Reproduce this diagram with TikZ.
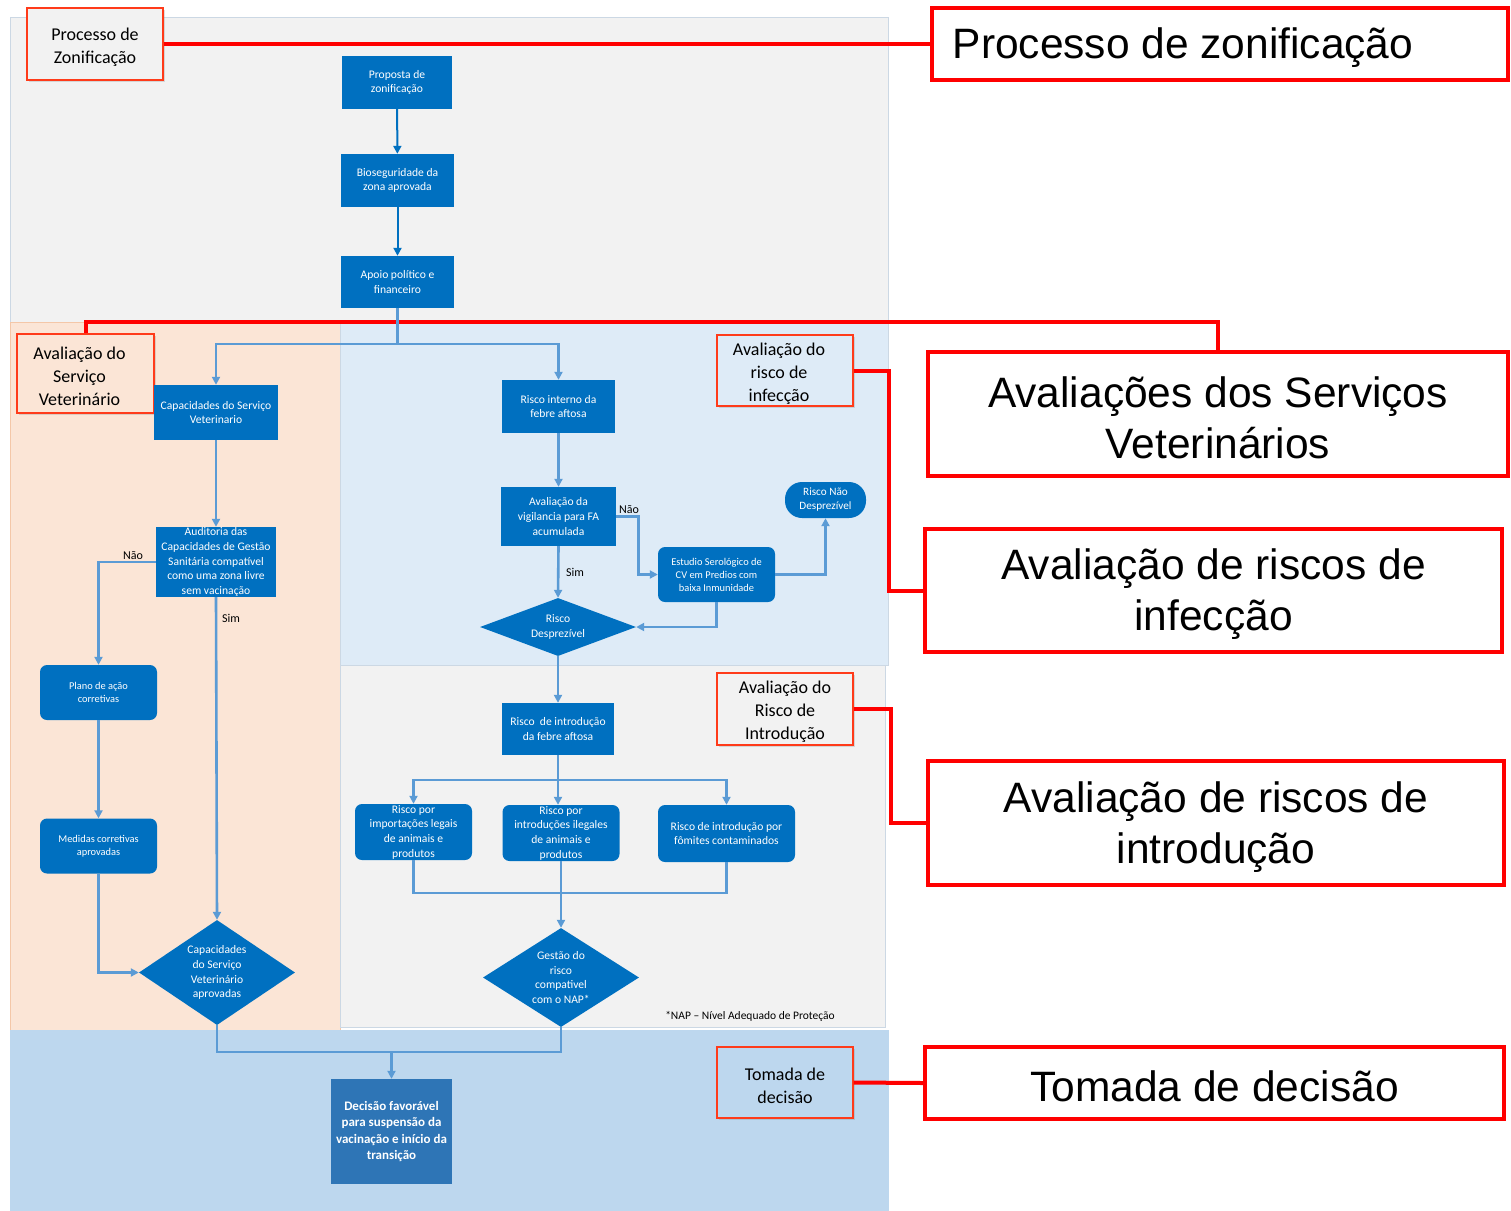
\documentclass[tikz,border=0pt]{standalone}
\usepackage{fontspec}
\setmainfont{Carlito}
\newfontfamily\arialf{Liberation Sans}
\usetikzlibrary{shapes.geometric,arrows.meta,shadows}
\definecolor{nblue}{HTML}{0070C0}
\definecolor{lblue}{HTML}{5B9BD5}
\definecolor{dblue}{HTML}{2E75B6}
\definecolor{greybg}{HTML}{F2F2F2}
\definecolor{peach}{HTML}{FBE5D6}
\definecolor{paleblue}{HTML}{DEEBF7}
\definecolor{midblue}{HTML}{BDD7EE}
\definecolor{redl}{HTML}{FF0000}
\definecolor{orred}{HTML}{FF3B1A}
\definecolor{gborder}{HTML}{CCD8E4}
\definecolor{pborder}{HTML}{F4C7A8}
\begin{document}
\begin{tikzpicture}[x=1pt,y=-1pt,
  box/.style={rectangle, fill=nblue, text=white, inner sep=0.5pt, align=center, font=\fontsize{11.6}{14.7}\selectfont},
  rbox/.style={box, rounded corners=7pt},
  small/.style={font=\fontsize{10.4}{13}\selectfont},
  dia/.style={diamond, fill=nblue, text=white, inner sep=0pt, align=center, font=\fontsize{11.6}{14.8}\selectfont},
  conn/.style={draw=lblue, line width=2.6pt, -{Triangle[length=8pt,width=8pt]}},
  cline/.style={draw=lblue, line width=2.6pt},
  tconn/.style={draw=nblue, line width=2pt, -{Triangle[length=8pt,width=8pt]}},
  tag/.style={draw=orred, line width=1.3pt, drop shadow={opacity=0.25, shadow xshift=2pt, shadow yshift=-2pt}},
  tagtext/.style={align=center, font=\fontsize{18}{23}\selectfont, yshift=-3pt},
  big/.style={draw=redl, line width=4pt, fill=white},
  bigtext/.style={align=center, font=\arialf\fontsize{42.5}{51}\selectfont, yshift=-4pt},
  redline/.style={draw=redl, line width=4pt},
  lab/.style={font=\fontsize{12}{14}\selectfont, text=black}
]
\useasboundingbox (0,0) rectangle (1511,1210);
\fill[white] (0,0) rectangle (1511,1210);
% regions
\filldraw[fill=greybg, draw=gborder, line width=1pt] (10,17) rectangle (888,322);
\filldraw[fill=peach, draw=pborder, line width=1pt] (10,322) rectangle (340,1030);
\filldraw[fill=paleblue, draw=gborder, line width=1pt] (340,322) rectangle (888,665);
\filldraw[fill=greybg, draw=gborder, line width=1pt] (340,665) rectangle (885,1027);
\filldraw[fill=midblue, draw=midblue, line width=1pt] (10,1030) rectangle (888,1210);

% tags
\node[tag, fill=greybg, minimum width=136, minimum height=72, label={[tagtext]center:{Processo de\\Zonificação}}] (tag1) at (95,44) {};
\node[tag, fill=peach, minimum width=137, minimum height=79, label={[tagtext, xshift=-6pt]center:{Avaliação do\\Serviço\\Veterinário}}] (tag2) at (85.5,373.5) {};
\node[tag, fill=paleblue, minimum width=136, minimum height=71, label={[tagtext, xshift=-6pt]center:{Avaliação do\\risco de\\infecção}}] (tag3) at (785,370.5) {};
\node[tag, fill=greybg, minimum width=136, minimum height=72, label={[tagtext]center:{Avaliação do\\Risco de\\Introdução}}] (tag4) at (785,709) {};
\node[tag, fill=midblue, minimum width=136, minimum height=71, label={[tagtext]center:{Tomada de\\decisão}}] (tag5) at (785,1082.5) {};

% big labels
\node[big, minimum width=576, minimum height=72, label={[bigtext, xshift=-37pt]center:{Processo de zonificação}}] (big1) at (1220,44) {};
\node[big, minimum width=580, minimum height=124, label={[bigtext]center:{Avaliações dos Serviços\\Veterinários}}] (big2) at (1218,414) {};
\node[big, minimum width=577, minimum height=123, label={[bigtext]center:{Avaliação de riscos de\\infecção}}] (big3) at (1213.5,590.5) {};
\node[big, minimum width=576, minimum height=124, label={[bigtext]center:{Avaliação de riscos de\\introdução}}] (big4) at (1216,823) {};
\node[big, minimum width=579, minimum height=72, label={[bigtext, yshift=1pt]center:{Tomada de decisão}}] (big5) at (1214.5,1083) {};

% red connectors
\coordinate (rc2) at (1218,322);
\draw[redline] (tag1.east) -- (big1.west);
\draw[redline] (tag2.north) |- (rc2) -- (big2.north);
\draw[redline] (tag3.east) -- ++(35,0) |- (big3.west);
\draw[redline] (tag4.east) -- ++(37,0) |- (big4.west);
\draw[redline] (tag5.east) -- (big5.west);

% flow nodes
\node[box, minimum width=110, minimum height=53] (p1) at (397,82.5) {Proposta de\\zonificação};
\node[box, minimum width=113, minimum height=53] (p2) at (397.5,180.5) {Bioseguridade da\\zona aprovada};
\node[box, minimum width=113, minimum height=52] (p3) at (397.5,282) {Apoio político e\\financeiro};
\node[box, minimum width=124, minimum height=55] (cap) at (216,412.5) {Capacidades do Serviço\\Veterinario};
\node[box, minimum width=120, minimum height=70] (aud) at (216,562) {Auditoria das\\Capacidades de Gestão\\Sanitária compatível\\como uma zona livre\\sem vacinação};
\node[rbox, small, minimum width=117, minimum height=55] (plano) at (98.5,692.5) {Plano de ação\\corretivas};
\node[rbox, small, minimum width=117, minimum height=55] (med) at (98.5,846) {Medidas corretivas\\aprovadas};
\node[dia, shape aspect=1.5, minimum width=156, minimum height=105] (capd) at (217,972.5) {Capacidades\\do Serviço\\Veterinário\\aprovadas};

\node[box, minimum width=113, minimum height=53] (ri) at (558.5,406.5) {Risco interno da\\febre aftosa};
\node[box, minimum width=115, minimum height=59] (av) at (558.5,516.5) {Avaliação da\\vigilancia para FA\\acumulada};
\node[rbox, small, minimum width=117, minimum height=55] (est) at (716.5,574.5) {Estudio Serológico de\\CV em Predios com\\baixa Inmunidade};
\node[rbox, rounded corners=17pt, minimum width=81, minimum height=36, font=\fontsize{11.2}{14}\selectfont] (rnd) at (825.5,500) {Risco Não\\Desprezível};
\node[dia, shape aspect=2.7, minimum width=156, minimum height=58] (rd) at (558,627) {Risco\\Desprezível};

\node[box, minimum width=112, minimum height=52] (rin) at (558,729) {Risco\ \ de introdução\\da febre aftosa};
\node[rbox, minimum width=117, minimum height=56] (imp) at (413.5,832) {Risco por\\importações legais\\de animais e\\produtos};
\node[rbox, minimum width=117, minimum height=56] (ileg) at (561,833) {Risco por\\introduções ilegales\\de animais e\\produtos};
\node[rbox, minimum width=137, minimum height=57] (fom) at (726.5,833.5) {Risco de introdução por\\fômites contaminados};
\node[dia, shape aspect=1.58, minimum width=156, minimum height=99] (gest) at (561,977.5) {Gestão do\\risco\\compativel\\com o NAP*};
\node[font=\fontsize{11.5}{13}\selectfont] (nap) at (750,1016) {*NAP – Nível Adequado de Proteção};

\node[box, fill=dblue, minimum width=121, minimum height=105, font=\bfseries\fontsize{13}{16.4}\selectfont] (dec) at (391.5,1131.5) {Decisão favorável\\para suspensão da\\vacinação e início da\\transição};

% connectors
\draw[tconn] (p1) -- (p2);
\draw[tconn] (p2) -- (p3);
\coordinate (j1) at (397.5,344);
\draw[cline] (p3.south) -- (j1);
\draw[conn] (j1) -| (cap.north);
\draw[conn] (j1) -| (ri.north);
\draw[conn] (cap) -- (aud);
\draw[conn] (aud.west) -| (plano.north);
\node[lab] (nao1) at (133,556) {Não};
\draw[conn] (aud.south) -- (capd.north);
\node[lab] (sim1) at (231,618) {Sim};
\draw[conn] (plano) -- (med);
\draw[conn] (med.south) |- (capd.west);

\draw[conn] (ri) -- (av);
\draw[conn] (av.south) -- (rd.north);
\node[lab] (sim2) at (575,572) {Sim};
\draw[conn] (av.east) -- ++(22,0) |- (est.west);
\node[lab] (nao2) at (629,510) {Não};
\draw[conn] (est.east) -| (rnd.south);
\draw[conn] (est.south) |- (rd.east);
\draw[conn] (rd.south) -- (rin.north);

\coordinate (j2) at (558,780);
\draw[cline] (rin.south) -- (j2);
\draw[conn] (j2) -| (imp.north);
\draw[conn] (j2) -| (fom.north);
\draw[conn] (j2) -- (j2 |- ileg.north);
\coordinate (j3) at (561,893);
\draw[cline] (imp.south) |- (j3) -| (fom.south);
\draw[conn] (ileg.south) -- (gest.north);

\coordinate (j4) at (391.5,1052);
\draw[cline] (capd.south) |- (j4);
\draw[cline] (gest.south) |- (j4);
\draw[conn] (j4) -- (dec.north);
\end{tikzpicture}
\end{document}
